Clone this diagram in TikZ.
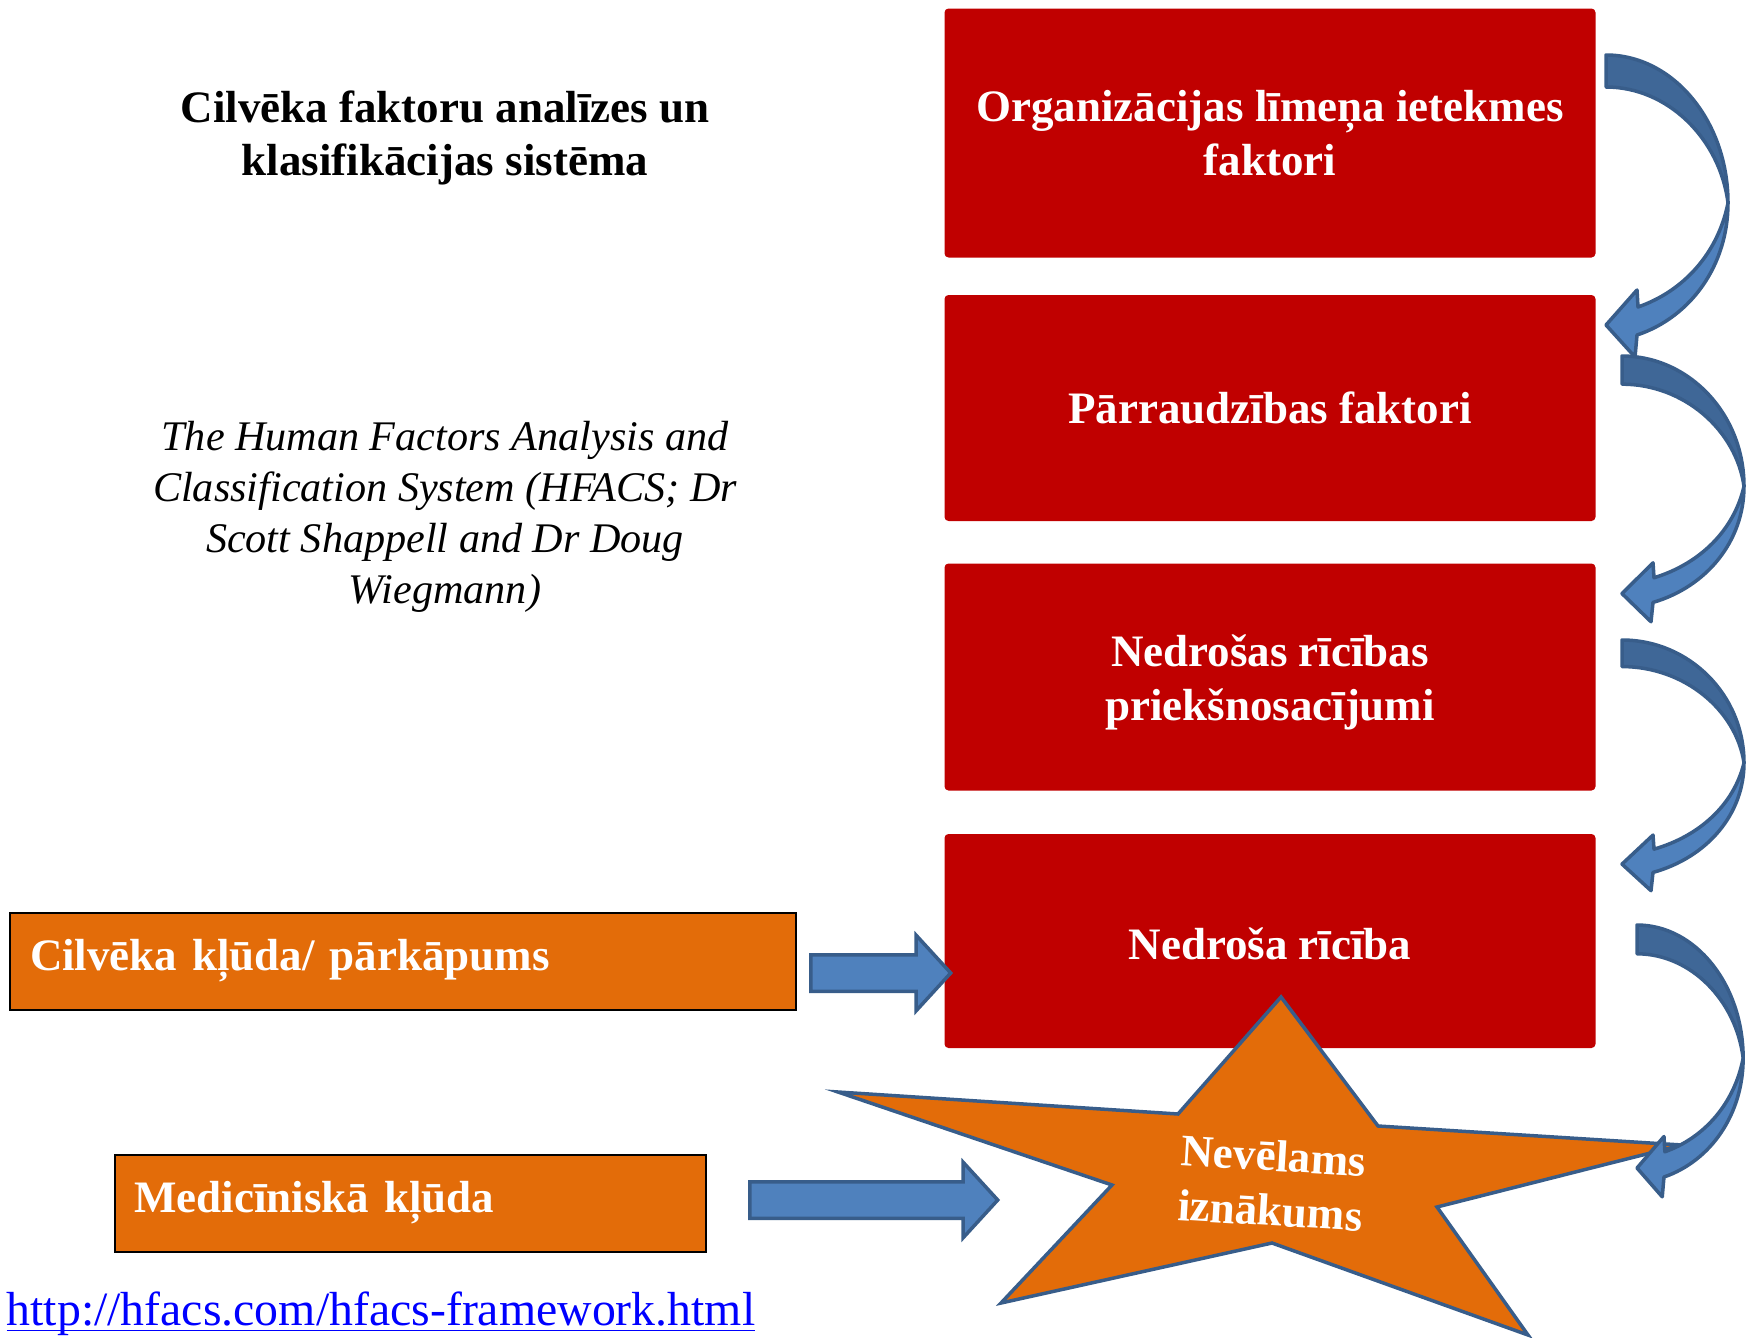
\documentclass[tikz,border=0pt]{standalone}
\usepackage{fontspec}
\setmainfont{Liberation Serif}
\usetikzlibrary{shapes.arrows}
\definecolor{boxred}{HTML}{C00000}
\definecolor{boxorange}{HTML}{E36C09}
\definecolor{arrowblue}{HTML}{4F81BD}
\definecolor{arrowdark}{HTML}{3F6797}
\definecolor{arrowline}{HTML}{385D8A}
\definecolor{linkblue}{HTML}{0000FF}
\begin{document}
\begin{tikzpicture}[x=0.1mm,y=-0.1mm,
  boldtext/.style={font=\fontsize{12.8}{15.3}\selectfont\bfseries},
  redbox/.style={boldtext, fill=boxred, text=white, rounded corners=0.4mm,
    align=center, minimum width=6.51cm, inner sep=0pt},
  orangebox/.style={boldtext, draw=black, line width=0.2mm, fill=boxorange, text=white,
    align=left, inner xsep=0.2cm, inner ysep=0pt, minimum height=0.97cm},
  blockarrow/.style={single arrow, draw=arrowline, fill=arrowblue, line width=0.35mm,
    inner xsep=0pt, inner ysep=0.165cm, minimum width=0.72cm,
    single arrow head extend=0.195cm, single arrow tip angle=95, anchor=tail},
  bentdark/.style={draw=arrowline, fill=arrowdark, line width=0.35mm, line join=round},
  bentlight/.style={draw=arrowline, fill=arrowblue, line width=0.35mm, line join=round}]
\useasboundingbox (0,0) rectangle (1756,1338);
\node[boldtext, align=center] (title) at (445,138)
{Cilvēka faktoru analīzes un\\klasifikācijas sistēma};
\node[font=\fontsize{12}{14.5}\selectfont\itshape, align=center] (source) at (445,517)
{The Human Factors Analysis and\\Classification System (HFACS; Dr\\Scott Shappell and Dr Doug\\Wiegmann)};
\node[redbox, minimum height=2.49cm] (org) at (1270,133) {Organizācijas līmeņa ietekmes\\faktori};
\node[redbox, minimum height=2.26cm] (sup) at (1270,408) {Pārraudzības faktori};
\node[redbox, minimum height=2.27cm] (pre) at (1270,677) {\rule{0pt}{4.2mm}Nedrošas rīcības\\priekšnosacījumi};
\node[redbox, minimum height=2.14cm] (act) at (1270,941) {\rule{0pt}{3.8mm}Nedroša rīcība};
\node[orangebox, text width=7.46cm] (human) at (403,961) {Cilvēka kļūda/ pārkāpums};
\node[orangebox, text width=5.51cm] (medical) at (410,1203) {Medicīniskā kļūda};
\node[blockarrow, minimum height=1.40cm] (harrow) at (809,973) {};
\node[blockarrow, minimum height=2.48cm] (marrow) at (748,1200) {};
% star of the outcome
\draw[fill=boxorange, draw=arrowline, line width=0.35mm] (1281,997) -- (1378,1126) -- (1682,1145)
  -- (1437,1207) -- (1528,1335) -- (1272,1243) -- (1001,1303) -- (1112,1185) -- (838,1092)
  -- (1178,1114) -- cycle;
\node[boldtext, text=white, align=center, rotate=-3.5, font=\fontsize{12.8}{15.6}\selectfont\bfseries]
  (outcome) at (1272,1183) {Nevēlams\\iznākums};
% bent arrows down the right side
\foreach \ax/\ay/\sx/\sy in {1606/55/1/1, 1622/356/1/0.88, 1622/640/1/0.83, 1637/925/0.87/0.9} {
  \begin{scope}[shift={(\ax,\ay)}, xscale=\sx, yscale=\sy]
    \draw[bentdark] (0,0) .. controls (67,0) and (122,66) .. (122,148)
      .. controls (114,84) and (62,32) .. (0,32) -- cycle;
    \draw[bentlight] (122,148) .. controls (122,210) and (85,262) .. (31,280) -- (29,302)
      -- (0,270) -- (31,235) -- (32,252) .. controls (78,236) and (112,198) .. (122,148) -- cycle;
  \end{scope}
}
\node[anchor=west, inner sep=0pt, text=linkblue, font=\fontsize{13.6}{16}\selectfont] (link) at (6,1329)
{\underline{\smash{http://hfacs.com/hfacs-framework.html}}};
\end{tikzpicture}
\end{document}
